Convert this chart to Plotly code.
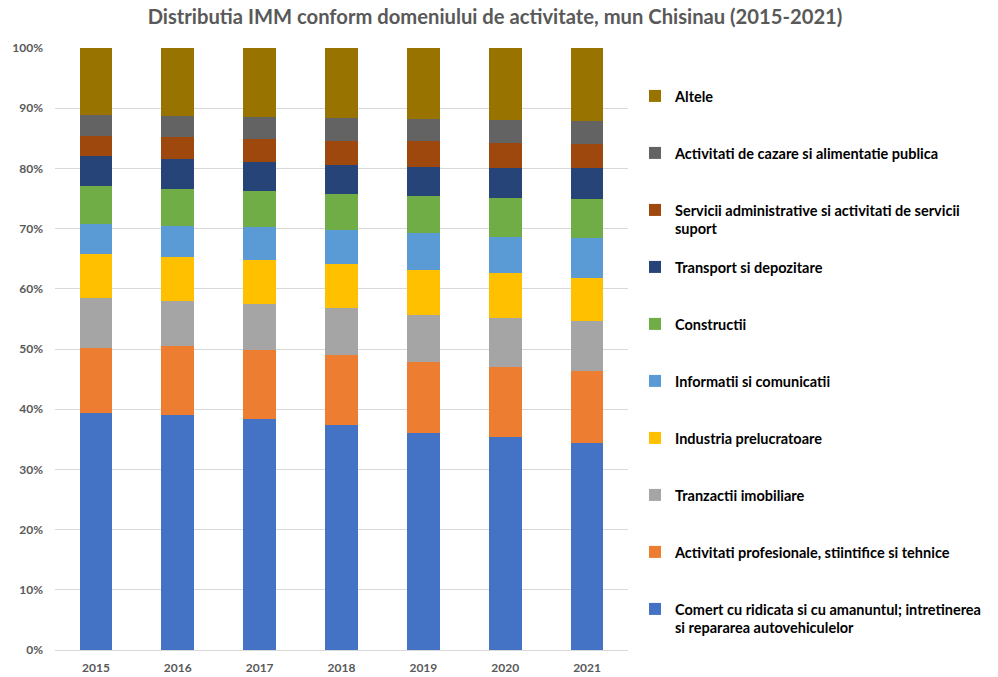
import plotly.graph_objects as go

years = ["2015", "2016", "2017", "2018", "2019", "2020", "2021"]

# share of SMEs per activity (%), stacked bottom to top
comert = [39.3, 39.0, 38.3, 37.3, 36.1, 35.4, 34.4]
profesionale = [10.9, 11.5, 11.6, 11.75, 11.8, 11.6, 11.95]
imobiliare = [8.3, 7.5, 7.6, 7.75, 7.7, 8.1, 8.3]
industria = [7.3, 7.3, 7.3, 7.3, 7.6, 7.6, 7.15]
informatii = [5.0, 5.1, 5.4, 5.7, 6.0, 5.9, 6.7]
constructii = [6.3, 6.2, 6.0, 6.0, 6.2, 6.5, 6.4]
transport = [5.0, 5.0, 4.9, 4.8, 4.9, 5.0, 5.2]
administrative = [3.3, 3.6, 3.8, 4.0, 4.2, 4.1, 4.0]
cazare = [3.5, 3.5, 3.6, 3.8, 3.7, 3.8, 3.8]
altele = [11.1, 11.3, 11.5, 11.6, 11.8, 12.0, 12.1]

y_ticks = [0, 10, 20, 30, 40, 50, 60, 70, 80, 90, 100]
y_tick_labels = [f"{v}%" for v in y_ticks]

series = [
    ("Comert cu ridicata si cu amanuntul; intretinerea<br>si repararea autovehiculelor", comert, "#4472C4"),
    ("Activitati profesionale, stiintifice si tehnice", profesionale, "#ED7D31"),
    ("Tranzactii imobiliare", imobiliare, "#A5A5A5"),
    ("Industria prelucratoare", industria, "#FFC000"),
    ("Informatii si comunicatii", informatii, "#5B9BD5"),
    ("Constructii", constructii, "#70AD47"),
    ("Transport si depozitare", transport, "#264478"),
    ("Servicii administrative si activitati de servicii<br>suport", administrative, "#9E480E"),
    ("Activitati de cazare si alimentatie publica", cazare, "#636363"),
    ("Altele", altele, "#997300"),
]

FONT = "Lato"
W, H = 998, 677
PLOT_L, PLOT_R, PLOT_T, PLOT_B = 55, 628, 48, 650

# vertical position (px from top) of each legend entry's first text line
legend_rows_px = [609, 552, 495, 438, 381, 324, 267, 210, 153, 96]

fig = go.Figure()
layout_legends = {}
for i, (name, vals, color) in enumerate(series):
    key = "legend" if i == 0 else f"legend{i + 1}"
    fig.add_trace(go.Bar(
        x=years, y=vals, name=name,
        marker=dict(color=color, line=dict(width=0)),
        legend=key,
    ))
    top_px = legend_rows_px[i] - 16
    layout_legends[key] = dict(
        x=635 / W,
        xref="container",
        xanchor="left",
        y=1 - top_px / H,
        yref="container",
        yanchor="top",
        bgcolor="rgba(0,0,0,0)",
        borderwidth=0,
        valign="top",
        font=dict(family=FONT, size=14.5, color="#000000", weight="bold"),
    )

fig.update_layout(
    barmode="stack",
    barnorm="percent",
    bargap=0.6,
    width=W, height=H,
    margin=dict(l=PLOT_L, r=W - PLOT_R, t=PLOT_T, b=H - PLOT_B, autoexpand=False),
    paper_bgcolor="white",
    plot_bgcolor="white",
    title=dict(
        text="Distributia IMM conform domeniului de activitate, mun Chisinau (2015-2021)",
        x=0.496, xanchor="center", y=0.975, yanchor="middle",
        font=dict(family=FONT, size=20.2, color="#595959", weight="bold"),
    ),
    xaxis=dict(
        automargin=False,
        showgrid=False, showline=True, linecolor="#D9D9D9", linewidth=1,
        ticks="", ticklabelstandoff=7,
        tickfont=dict(family=FONT, size=12, color="#595959", weight="bold"),
    ),
    yaxis=dict(
        automargin=False,
        range=[0, 100], tickvals=y_ticks, ticktext=y_tick_labels,
        showgrid=True, gridcolor="#D9D9D9", gridwidth=1,
        zeroline=False, showline=False, ticks="", ticklabelstandoff=11,
        tickfont=dict(family=FONT, size=12, color="#595959", weight="bold"),
    ),
    showlegend=True,
    **layout_legends,
)

fig.write_html("out.html")
